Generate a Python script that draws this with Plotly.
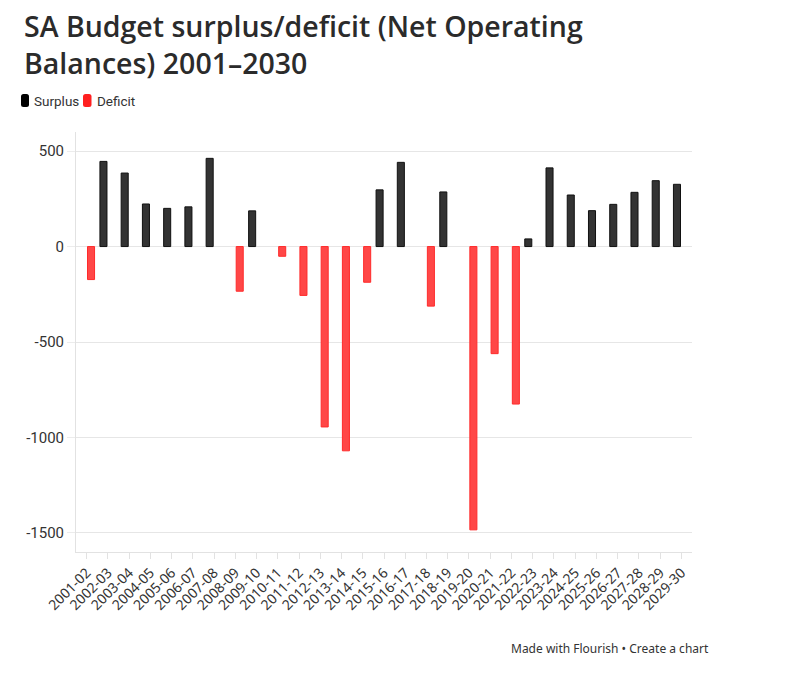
import plotly.graph_objects as go

years = ["2001-02","2002-03","2003-04","2004-05","2005-06","2006-07","2007-08","2008-09",
         "2009-10","2010-11","2011-12","2012-13","2013-14","2014-15","2015-16","2016-17",
         "2017-18","2018-19","2019-20","2020-21","2021-22","2022-23","2023-24","2024-25",
         "2025-26","2026-27","2027-28","2028-29","2029-30"]
balance = [-173, 446, 385, 223, 200, 208, 462, -234,
           187, -51, -256, -945, -1070, -187, 297, 441,
           -312, 286, -1484, -561, -825, 40, 412, 270,
           188, 221, 284, 345, 326]

surplus = [v if v > 0 else None for v in balance]
deficit = [v if v < 0 else None for v in balance]

y_ticks = [500, 0, -500, -1000, -1500]

W, H = 786, 674
L, R, T, B = 76, 94, 132, 122
PW, PH = W - L - R, H - T - B

def px(x):
    return (x - L) / PW

def py(y):
    return (H - B - y) / PH

fig = go.Figure()
fig.add_trace(go.Bar(name="Surplus", x=years, y=surplus,
                     marker=dict(color="#333333", line=dict(color="#111111", width=1)),
                     showlegend=False))
fig.add_trace(go.Bar(name="Deficit", x=years, y=deficit,
                     marker=dict(color="#ff4747", line=dict(color="#ff2b2b", width=1)),
                     showlegend=False))

def rounded(x0, y0, x1, y1, r):
    X0, X1 = px(x0), px(x1)
    Y0, Y1 = py(y0), py(y1)
    rx = r / PW
    ry = r / PH
    return (f"M {X0+rx},{Y0} L {X1-rx},{Y0} Q {X1},{Y0} {X1},{Y0-ry} "
            f"L {X1},{Y1+ry} Q {X1},{Y1} {X1-rx},{Y1} L {X0+rx},{Y1} "
            f"Q {X0},{Y1} {X0},{Y1+ry} L {X0},{Y0-ry} Q {X0},{Y0} {X0+rx},{Y0} Z")

shapes = [
    dict(type="path", xref="paper", yref="paper", path=rounded(21, 94, 29, 107, 2.5),
         fillcolor="#000000", line=dict(width=0)),
    dict(type="path", xref="paper", yref="paper", path=rounded(83, 94, 91.5, 107, 2.5),
         fillcolor="#ff2020", line=dict(width=0)),
]

annotations = [
    dict(text="SA Budget surplus/deficit (Net Operating<br>Balances) 2001–2030",
         xref="paper", yref="paper", x=px(22), y=py(5),
         xanchor="left", yanchor="top", align="left", showarrow=False,
         font=dict(family="Open Sans", size=28.5, weight=600, color="#2b2b2b")),
    dict(text="Surplus", xref="paper", yref="paper", x=px(32), y=py(101),
         xanchor="left", yanchor="middle", showarrow=False,
         font=dict(family="Roboto", size=13.5, color="#333333")),
    dict(text="Deficit", xref="paper", yref="paper", x=px(95), y=py(101),
         xanchor="left", yanchor="middle", showarrow=False,
         font=dict(family="Roboto", size=13.5, color="#333333")),
    dict(text="Made with Flourish • Create a chart", xref="paper", yref="paper",
         x=px(711), y=py(648), xanchor="right", yanchor="middle", showarrow=False,
         font=dict(family="Noto Sans", size=12, color="#333333")),
]

fig.update_layout(
    width=W, height=H,
    margin=dict(l=L, r=R, t=T, b=B, pad=0),
    paper_bgcolor="white", plot_bgcolor="white",
    barmode="group", bargap=0.17, bargroupgap=0.2,
    shapes=shapes,
    annotations=annotations,
    xaxis=dict(type="category", tickangle=-45, showgrid=False,
               showline=True, linecolor="#e2e2e2", linewidth=1,
               ticks="outside", ticklen=6, tickcolor="#e2e2e2",
               tickfont=dict(family="Noto Sans", size=14, color="#333333")),
    yaxis=dict(range=[-1600, 600], tickvals=y_ticks, ticktext=[str(v) for v in y_ticks],
               showgrid=True, gridcolor="#e6e6e6", gridwidth=1,
               zeroline=True, zerolinecolor="#e6e6e6", zerolinewidth=1,
               showline=True, linecolor="#e2e2e2", linewidth=1,
               ticks="outside", ticklen=8, tickcolor="#ececec",
               tickfont=dict(family="Roboto", size=15, color="#333333")),
)

fig.write_html("out.html")
